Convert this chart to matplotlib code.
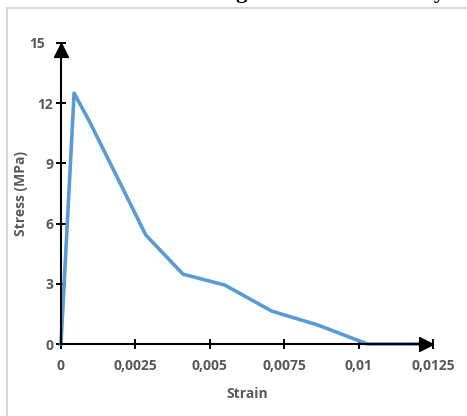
import matplotlib.pyplot as plt
from matplotlib.path import Path
from matplotlib.patches import Rectangle
from matplotlib.transforms import ScaledTranslation

strain = [0, 0.00044, 0.00097, 0.00285, 0.0041, 0.0055, 0.00708, 0.00862, 0.0103, 0.0122]
stress = [0, 12.5, 11.05, 5.43, 3.48, 2.94, 1.64, 0.95, 0, 0]

xticks = [0, 0.0025, 0.005, 0.0075, 0.01, 0.0125]
xlabels = ["0", "0,0025", "0,005", "0,0075", "0,01", "0,0125"]
yticks = [0, 3, 6, 9, 12, 15]
ylabels = ["0", "3", "6", "9", "12", "15"]

W, H = 467, 416
fig = plt.figure(figsize=(W / 100, H / 100), dpi=100)
plt.rcParams['font.family'] = ['Open Sans', 'DejaVu Sans']

# chart border (runs off the right/bottom edge)
fig.patches.append(Rectangle((7 / W, -0.1), 1.2, (H - 8) / H + 0.1, transform=fig.transFigure,
                             fill=False, edgecolor='#d9d9d9', linewidth=1.5))
# title, mostly cut off at the top
fig.text(81 / W, (H + 2) / H, "Stress-strain diagram of the boundary layer", family='Liberation Serif',
         fontweight='bold', fontsize=16, va='baseline', ha='left')

ax = fig.add_axes([61 / W, (H - 344) / H, (433 - 61) / W, (344 - 43) / H])
ax.plot(strain, stress, color='#5b9bd5', linewidth=2.6, solid_joinstyle='round', clip_on=False, zorder=3)

ax.set_xlim(0, 0.0125)
ax.set_ylim(0, 15)
ax.set_xticks(xticks, xlabels)
ax.set_yticks(yticks, ylabels)
ax.spines[['top', 'right']].set_visible(False)
for s in ['left', 'bottom']:
    ax.spines[s].set_linewidth(1.5)
    ax.spines[s].set_zorder(4)
ax.tick_params(direction='inout', length=7, width=1.4, labelsize=10, labelcolor='#595959')
ax.tick_params(axis='x', pad=7)
ax.tick_params(axis='y', pad=2)
for lab in ax.get_xticklabels() + ax.get_yticklabels():
    lab.set_fontweight('bold')
# top label sits a little left of the arrow head
top = ax.get_yticklabels()[-1]
top.set_transform(top.get_transform() + ScaledTranslation(-8 / 100, 0, fig.dpi_scale_trans))

# arrow heads at the axis ends
up = Path([(0, 0), (-0.5, -1), (0.5, -1), (0, 0)], [1, 2, 2, 79])
right = Path([(0, 0), (-1, 0.5), (-1, -0.5), (0, 0)], [1, 2, 2, 79])
ax.plot([0], [15], marker=up, markersize=20, color='black', clip_on=False, zorder=5)
ax.plot([0.0125], [0], marker=right, markersize=20, color='black', clip_on=False, zorder=5)

ax.set_xlabel("Strain", fontsize=10, fontweight='bold', color='#595959')
ax.set_ylabel("Stress (MPa)", fontsize=10, fontweight='bold', color='#595959')
ax.xaxis.set_label_coords(0.5, -0.143)
ax.yaxis.set_label_coords(-0.089, 0.5)

fig.savefig("out.png", dpi=100)
